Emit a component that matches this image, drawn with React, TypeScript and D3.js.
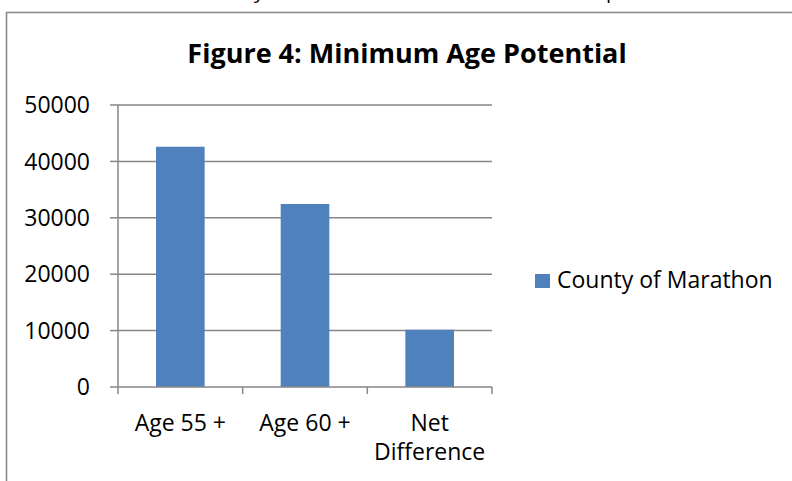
import * as d3 from 'd3';
import React from 'react';

// chart values
const categories = ['Age 55 +', 'Age 60 +', 'Net Difference'];
const categoryLines = [['Age 55 +'], ['Age 60 +'], ['Net', 'Difference']];
const countyValues = [42600, 32450, 10150];
const yTicks = [0, 10000, 20000, 30000, 40000, 50000];
const seriesName = 'County of Marathon';
const title = 'Figure 4: Minimum Age Potential';

export default function App() {
  const width = 792;
  const height = 481;
  const font = '"Open Sans", Lato, sans-serif';
  const barColor = '#4F81BD';
  const gridColor = '#868686';

  const plot = { left: 118, right: 492, top: 105, bottom: 387 };

  const x = d3
    .scaleBand<string>()
    .domain(categories)
    .range([plot.left, plot.right])
    .padding(0);
  const y = d3
    .scaleLinear()
    .domain([0, 50000])
    .range([plot.bottom, plot.top]);

  const barW = x.bandwidth() * 0.39;
  const boundaries = [...categories.map(c => x(c) as number), plot.right];

  return (
    <svg
      width={width}
      height={height}
      style={{ position: 'absolute', left: 0, top: 0, background: '#fff' }}
    >
      {/* clipped text from the page above */}
      <text x={254} y={-2} fontFamily={font} fontSize={20} fill="#000">y</text>
      <text x={606} y={-2} fontFamily={font} fontSize={20} fill="#000">p</text>

      {/* chart frame */}
      <rect
        x={6.5}
        y={12.5}
        width={900}
        height={600}
        fill="#fff"
        stroke="#8a8a8a"
        strokeWidth={1.6}
      />

      <text
        x={407}
        y={63}
        textAnchor="middle"
        fontFamily={font}
        fontWeight="bold"
        fontSize={27}
        fill="#000"
      >
        {title}
      </text>

      {/* gridlines */}
      {yTicks
        .filter(t => t > 0)
        .map(t => (
          <line
            key={t}
            x1={plot.left}
            x2={plot.right}
            y1={y(t)}
            y2={y(t)}
            stroke={gridColor}
            strokeWidth={1.5}
          />
        ))}

      {/* bars */}
      {categories.map((c, i) => (
        <rect
          key={c}
          x={(x(c) as number) + (x.bandwidth() - barW) / 2}
          y={y(countyValues[i])}
          width={barW}
          height={y(0) - y(countyValues[i])}
          fill={barColor}
        />
      ))}

      {/* y axis */}
      <line x1={plot.left} x2={plot.left} y1={plot.top} y2={plot.bottom} stroke={gridColor} strokeWidth={1.5} />
      {yTicks.map(t => (
        <g key={t}>
          <line x1={plot.left - 8} x2={plot.left} y1={y(t)} y2={y(t)} stroke={gridColor} strokeWidth={1.5} />
          <text
            x={90}
            y={y(t)}
            dy="0.36em"
            textAnchor="end"
            fontFamily={font}
            fontSize={23}
            fill="#000"
          >
            {t}
          </text>
        </g>
      ))}

      {/* x axis */}
      <line x1={plot.left} x2={plot.right} y1={plot.bottom} y2={plot.bottom} stroke={gridColor} strokeWidth={1.5} />
      {boundaries.map((b, i) => (
        <line key={i} x1={b} x2={b} y1={plot.bottom} y2={plot.bottom + 7} stroke={gridColor} strokeWidth={1.5} />
      ))}
      {categories.map((c, i) => (
        <text
          key={c}
          x={(x(c) as number) + x.bandwidth() / 2}
          y={431}
          textAnchor="middle"
          fontFamily={font}
          fontSize={23}
          fill="#000"
        >
          {categoryLines[i].map((line, j) => (
            <tspan key={j} x={(x(c) as number) + x.bandwidth() / 2} dy={j === 0 ? 0 : 29}>
              {line}
            </tspan>
          ))}
        </text>
      ))}

      {/* legend */}
      <rect x={535} y={274} width={15} height={14} fill={barColor} />
      <text x={557} y={288} fontFamily={font} fontSize={23} fill="#000">
        {seriesName}
      </text>
    </svg>
  );
}
